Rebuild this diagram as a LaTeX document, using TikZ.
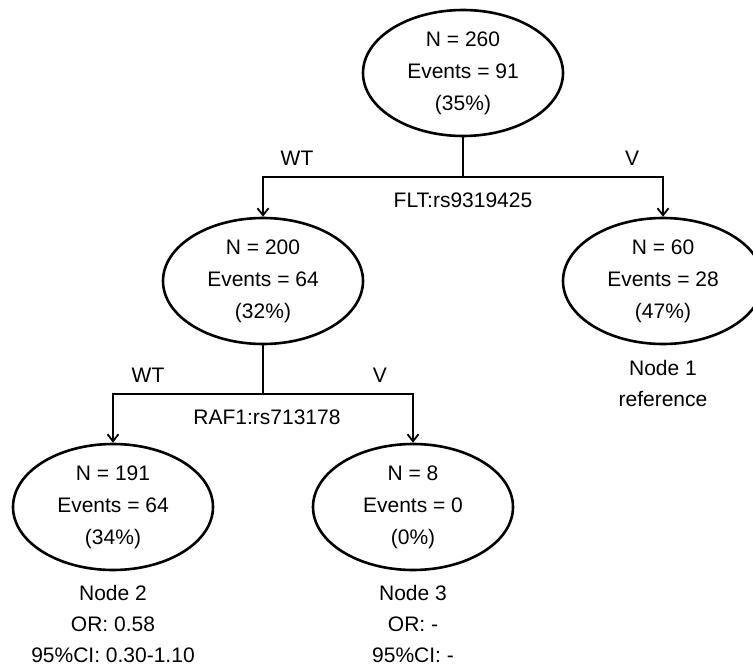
\documentclass[tikz,border=0pt]{standalone}
\usepackage{fontspec}
\setmainfont{Liberation Sans}
\usetikzlibrary{shapes.geometric, arrows.meta}

\begin{document}
\begin{tikzpicture}[x=1pt, y=-1pt, font=\fontsize{21}{32}\selectfont,
	split/.style={ellipse, draw, line width=2.6pt, minimum width=200pt, minimum height=126pt, inner sep=0pt, align=center},
	branch/.style={line width=1.8pt},
	info/.style={align=center, anchor=north, inner sep=0pt, font=\fontsize{21}{31}\selectfont}]
	\useasboundingbox (0,0) rectangle (753,669);
	% splits
	\node[split] (root) at (463,73) {N = 260\\Events = 91\\(35\%)};
	\node[split] (n200) at (263,281) {N = 200\\Events = 64\\(32\%)};
	\node[split] (n60) at (663,281) {N = 60\\Events = 28\\(47\%)};
	\node[split] (n191) at (113,507) {N = 191\\Events = 64\\(34\%)};
	\node[split] (n8) at (413,507) {N = 8\\Events = 0\\(0\%)};
	\coordinate (fork1) at (463,177);
	\coordinate (fork2) at (263,394);
	% connectors
	\draw[branch] (root) -- (fork1);
	\draw[branch, -{Straight Barb[length=7pt, width=11pt]}] (fork1) -| (n200);
	\draw[branch, -{Straight Barb[length=7pt, width=11pt]}] (fork1) -| (n60);
	\draw[branch] (n200) -- (fork2);
	\draw[branch, -{Straight Barb[length=7pt, width=11pt]}] (fork2) -| (n191);
	\draw[branch, -{Straight Barb[length=7pt, width=11pt]}] (fork2) -| (n8);
	% labels
	\node (wt1) at (297,158) {WT};
	\node (v1) at (632,158) {V};
	\node (snp1) at (463,200) {FLT:rs9319425};
	\node (wt2) at (148,375) {WT};
	\node (v2) at (380,375) {V};
	\node (snp2) at (267,417) {RAF1:rs713178};
	\node[info] (ref1) at (663,360) {Node 1\\reference};
	\node[info] (ref2) at (113,585) {Node 2\\OR: 0.58\\95\%CI: 0.30-1.10};
	\node[info] (ref3) at (413,585) {Node 3\\OR: -\\95\%CI: -};
\end{tikzpicture}
\end{document}
